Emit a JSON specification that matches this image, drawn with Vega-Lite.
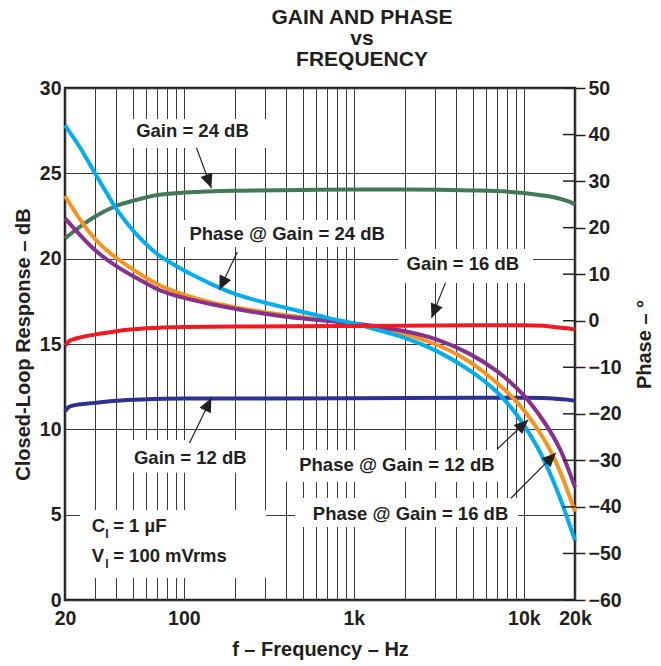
{
  "$schema": "https://vega.github.io/schema/vega-lite/v6.json",
  "width": 510,
  "height": 512,
  "autosize": {"type": "none"},
  "padding": {"left": 65, "top": 88, "right": 86, "bottom": 66},
  "background": "white",
  "config": {
    "font": "Liberation Sans",
    "view": {"stroke": "#231f20", "strokeWidth": 2.5},
    "axis": {
      "domain": false,
      "labelFont": "Liberation Sans", "labelFontWeight": "bold", "labelFontSize": 19.5, "labelColor": "#231f20",
      "titleFont": "Liberation Sans", "titleFontWeight": "bold", "titleFontSize": 20, "titleColor": "#231f20",
      "gridColor": "#3a3a3a", "gridWidth": 1, "gridOpacity": 1, "tickColor": "#231f20"
    }
  },
  "title": {
    "text": ["GAIN AND PHASE", "vs", "FREQUENCY"],
    "font": "Liberation Sans", "fontSize": 21, "fontWeight": "bold", "color": "#231f20",
    "lineHeight": 21, "anchor": "middle", "dx": 42, "offset": 8
  },
  "datasets": {
    "gain": [
      {"s": "Gain = 24 dB", "f": 20, "v": 21.19}, {"s": "Gain = 24 dB", "f": 24.5, "v": 21.87}, {"s": "Gain = 24 dB", "f": 30.4, "v": 22.5},
      {"s": "Gain = 24 dB", "f": 40.2, "v": 23.1}, {"s": "Gain = 24 dB", "f": 50.6, "v": 23.4}, {"s": "Gain = 24 dB", "f": 69.9, "v": 23.73},
      {"s": "Gain = 24 dB", "f": 100.9, "v": 23.87}, {"s": "Gain = 24 dB", "f": 150, "v": 23.95}, {"s": "Gain = 24 dB", "f": 211.7, "v": 23.98},
      {"s": "Gain = 24 dB", "f": 500, "v": 24.03}, {"s": "Gain = 24 dB", "f": 1000, "v": 24.05},
      {"s": "Gain = 24 dB", "f": 2000, "v": 24.05}, {"s": "Gain = 24 dB", "f": 5000, "v": 24.0}, {"s": "Gain = 24 dB", "f": 8000, "v": 23.93},
      {"s": "Gain = 24 dB", "f": 10000, "v": 23.85}, {"s": "Gain = 24 dB", "f": 12000, "v": 23.75}, {"s": "Gain = 24 dB", "f": 15000, "v": 23.6},
      {"s": "Gain = 24 dB", "f": 18000, "v": 23.38}, {"s": "Gain = 24 dB", "f": 20000, "v": 23.18},
      {"s": "Gain = 12 dB", "f": 20, "v": 11.05}, {"s": "Gain = 12 dB", "f": 21, "v": 11.3}, {"s": "Gain = 12 dB", "f": 22, "v": 11.38},
      {"s": "Gain = 12 dB", "f": 30, "v": 11.55}, {"s": "Gain = 12 dB", "f": 40, "v": 11.68}, {"s": "Gain = 12 dB", "f": 60, "v": 11.76},
      {"s": "Gain = 12 dB", "f": 100, "v": 11.8}, {"s": "Gain = 12 dB", "f": 1000, "v": 11.82}, {"s": "Gain = 12 dB", "f": 5000, "v": 11.85},
      {"s": "Gain = 12 dB", "f": 10000, "v": 11.85}, {"s": "Gain = 12 dB", "f": 13000, "v": 11.83}, {"s": "Gain = 12 dB", "f": 15000, "v": 11.8},
      {"s": "Gain = 12 dB", "f": 18000, "v": 11.74}, {"s": "Gain = 12 dB", "f": 20000, "v": 11.68},
      {"s": "Gain = 16 dB", "f": 20, "v": 14.9}, {"s": "Gain = 16 dB", "f": 21, "v": 15.15}, {"s": "Gain = 16 dB", "f": 22, "v": 15.25},
      {"s": "Gain = 16 dB", "f": 25, "v": 15.4}, {"s": "Gain = 16 dB", "f": 30, "v": 15.55}, {"s": "Gain = 16 dB", "f": 40, "v": 15.75},
      {"s": "Gain = 16 dB", "f": 60, "v": 15.92}, {"s": "Gain = 16 dB", "f": 100, "v": 16.0}, {"s": "Gain = 16 dB", "f": 200, "v": 16.02},
      {"s": "Gain = 16 dB", "f": 1000, "v": 16.05}, {"s": "Gain = 16 dB", "f": 5000, "v": 16.1}, {"s": "Gain = 16 dB", "f": 10000, "v": 16.1},
      {"s": "Gain = 16 dB", "f": 13000, "v": 16.07}, {"s": "Gain = 16 dB", "f": 15000, "v": 16.0}, {"s": "Gain = 16 dB", "f": 18000, "v": 15.92},
      {"s": "Gain = 16 dB", "f": 20000, "v": 15.85}
    ],
    "phase": [
      {"s": "Phase @ Gain = 12 dB", "f": 20, "p": 26.8}, {"s": "Phase @ Gain = 12 dB", "f": 24.5, "p": 21.6}, {"s": "Phase @ Gain = 12 dB", "f": 30.4, "p": 17.0},
      {"s": "Phase @ Gain = 12 dB", "f": 40.2, "p": 13.4}, {"s": "Phase @ Gain = 12 dB", "f": 50.6, "p": 10.9}, {"s": "Phase @ Gain = 12 dB", "f": 60.6, "p": 9.1},
      {"s": "Phase @ Gain = 12 dB", "f": 69.9, "p": 7.7}, {"s": "Phase @ Gain = 12 dB", "f": 100.9, "p": 5.5}, {"s": "Phase @ Gain = 12 dB", "f": 141.6, "p": 3.9},
      {"s": "Phase @ Gain = 12 dB", "f": 211.7, "p": 2.7}, {"s": "Phase @ Gain = 12 dB", "f": 388, "p": 1.1}, {"s": "Phase @ Gain = 12 dB", "f": 1000, "p": -0.4},
      {"s": "Phase @ Gain = 12 dB", "f": 1965, "p": -2.7}, {"s": "Phase @ Gain = 12 dB", "f": 2820, "p": -4.5}, {"s": "Phase @ Gain = 12 dB", "f": 4425, "p": -7.7},
      {"s": "Phase @ Gain = 12 dB", "f": 6340, "p": -12.0}, {"s": "Phase @ Gain = 12 dB", "f": 9100, "p": -17.1}, {"s": "Phase @ Gain = 12 dB", "f": 11930, "p": -22.8},
      {"s": "Phase @ Gain = 12 dB", "f": 15640, "p": -30.0}, {"s": "Phase @ Gain = 12 dB", "f": 20000, "p": -41.0},
      {"s": "Phase @ Gain = 16 dB", "f": 20, "p": 22.0}, {"s": "Phase @ Gain = 16 dB", "f": 24.5, "p": 18.4}, {"s": "Phase @ Gain = 16 dB", "f": 30.4, "p": 14.8},
      {"s": "Phase @ Gain = 16 dB", "f": 40.2, "p": 11.6}, {"s": "Phase @ Gain = 16 dB", "f": 50.6, "p": 9.5}, {"s": "Phase @ Gain = 16 dB", "f": 60.6, "p": 8.0},
      {"s": "Phase @ Gain = 16 dB", "f": 69.9, "p": 6.6}, {"s": "Phase @ Gain = 16 dB", "f": 100.9, "p": 4.8}, {"s": "Phase @ Gain = 16 dB", "f": 141.6, "p": 3.6},
      {"s": "Phase @ Gain = 16 dB", "f": 211.7, "p": 2.4}, {"s": "Phase @ Gain = 16 dB", "f": 388, "p": 0.7}, {"s": "Phase @ Gain = 16 dB", "f": 1000, "p": -0.4},
      {"s": "Phase @ Gain = 16 dB", "f": 1965, "p": -2.1}, {"s": "Phase @ Gain = 16 dB", "f": 3083, "p": -3.8}, {"s": "Phase @ Gain = 16 dB", "f": 4842, "p": -7.0},
      {"s": "Phase @ Gain = 16 dB", "f": 6950, "p": -10.6}, {"s": "Phase @ Gain = 16 dB", "f": 9956, "p": -15.6}, {"s": "Phase @ Gain = 16 dB", "f": 13050, "p": -21.4},
      {"s": "Phase @ Gain = 16 dB", "f": 16400, "p": -27.1}, {"s": "Phase @ Gain = 16 dB", "f": 20000, "p": -35.8},
      {"s": "Phase @ Gain = 24 dB", "f": 20, "p": 42.0}, {"s": "Phase @ Gain = 24 dB", "f": 24.5, "p": 37.4}, {"s": "Phase @ Gain = 24 dB", "f": 30.4, "p": 31.3},
      {"s": "Phase @ Gain = 24 dB", "f": 36.7, "p": 26.3}, {"s": "Phase @ Gain = 24 dB", "f": 40.2, "p": 23.8}, {"s": "Phase @ Gain = 24 dB", "f": 50.6, "p": 19.1},
      {"s": "Phase @ Gain = 24 dB", "f": 60.6, "p": 16.3}, {"s": "Phase @ Gain = 24 dB", "f": 69.9, "p": 14.1}, {"s": "Phase @ Gain = 24 dB", "f": 92, "p": 11.6},
      {"s": "Phase @ Gain = 24 dB", "f": 100.9, "p": 10.7}, {"s": "Phase @ Gain = 24 dB", "f": 141.6, "p": 8.0}, {"s": "Phase @ Gain = 24 dB", "f": 211.7, "p": 5.2},
      {"s": "Phase @ Gain = 24 dB", "f": 388, "p": 2.9}, {"s": "Phase @ Gain = 24 dB", "f": 730, "p": 0.4},
      {"s": "Phase @ Gain = 24 dB", "f": 1000, "p": -0.5}, {"s": "Phase @ Gain = 24 dB", "f": 1144, "p": -1.2}, {"s": "Phase @ Gain = 24 dB", "f": 1965, "p": -3.4},
      {"s": "Phase @ Gain = 24 dB", "f": 3083, "p": -6.3}, {"s": "Phase @ Gain = 24 dB", "f": 4842, "p": -10.6}, {"s": "Phase @ Gain = 24 dB", "f": 6950, "p": -15.0},
      {"s": "Phase @ Gain = 24 dB", "f": 9100, "p": -20.0}, {"s": "Phase @ Gain = 24 dB", "f": 11930, "p": -26.5}, {"s": "Phase @ Gain = 24 dB", "f": 15640, "p": -35.8},
      {"s": "Phase @ Gain = 24 dB", "f": 20000, "p": -47.2}
    ],
    "labels": [
      {"t": "Gain = 24 dB", "f": 112.4, "v": 27.48},
      {"t": "Phase @ Gain = 24 dB", "f": 405, "v": 21.46},
      {"t": "Gain = 16 dB", "f": 4379, "v": 19.66},
      {"t": "Gain = 12 dB", "f": 109.1, "v": 8.31},
      {"t": "Phase @ Gain = 12 dB", "f": 1793, "v": 7.91},
      {"t": "Phase @ Gain = 16 dB", "f": 2156, "v": 5.04}
    ],
    "boxes": [
      {"f": 44.9, "f2": 317.8, "v": 26.49, "v2": 28.18},
      {"f": 94.4, "f2": 1647, "v": 20.69, "v2": 22.27},
      {"f": 1834, "f2": 11336, "v": 18.58, "v2": 20.57},
      {"f": 44.9, "f2": 259.5, "v": 7.45, "v2": 9.38},
      {"f": 24.5, "f2": 305, "v": 1.29, "v2": 5.28},
      {"f": 378.6, "f2": 7770, "v": 6.92, "v2": 8.79},
      {"f": 451, "f2": 9262, "v": 4.28, "v2": 5.98}
    ],
    "arrows": [
      {"f": 118.7, "v": 26.49, "f2": 145.2, "v2": 24.14, "ang": 159.4},
      {"f": 206.3, "v": 20.39, "f2": 161.8, "v2": 18.17, "ang": 205.3},
      {"f": 3458, "v": 18.58, "f2": 2864, "v2": 16.53, "ang": 201.8},
      {"f": 108, "v": 9.2, "f2": 145.2, "v2": 11.84, "ang": 26.1},
      {"f": 6974, "v": 8.85, "f2": 10598, "v2": 10.55, "ang": 46.9},
      {"f": 8390, "v": 5.96, "f2": 15454, "v2": 8.62, "ang": 45}
    ],
    "notes": [
      {"t": "C", "f": 28.7, "v": 4.0},
      {"t": "= 1 µF", "f": 38.4, "v": 4.0},
      {"t": "V", "f": 28.7, "v": 2.25},
      {"t": "= 100 mVrms", "f": 38.4, "v": 2.25}
    ],
    "subs": [
      {"t": "I", "f": 34.5, "v": 3.62},
      {"t": "I", "f": 34.5, "v": 1.87}
    ],
    "pticks": [
      {"p": -60}, {"p": -50}, {"p": -40}, {"p": -30}, {"p": -20}, {"p": -10}, {"p": 0}, {"p": 10}, {"p": 20}, {"p": 30}, {"p": 40}, {"p": 50}
    ]
  },
  "layer": [
    {
      "layer": [
        {
          "data": {"name": "boxes"},
          "mark": {"type": "rect", "fill": "white"},
          "encoding": {
            "x": {"field": "f", "type": "quantitative", "scale": {"type": "log", "domain": [20, 20000], "nice": false},
              "axis": {
                "values": [20, 30, 40, 50, 60, 70, 80, 90, 100, 200, 300, 400, 500, 600, 700, 800, 900, 1000, 2000, 3000, 4000, 5000, 6000, 7000, 8000, 9000, 10000, 20000],
                "grid": true, "ticks": false, "labelPadding": 9, "labelOverlap": false, "labelFlush": false, "labelBound": false,
                "labelExpr": "datum.value == 20 ? '20' : datum.value == 100 ? '100' : datum.value == 1000 ? '1k' : datum.value == 10000 ? '10k' : datum.value == 20000 ? '20k' : ''",
                "title": "f – Frequency – Hz", "titlePadding": 12
              }},
            "x2": {"field": "f2"},
            "y": {"field": "v", "type": "quantitative", "scale": {"domain": [0, 30], "nice": false, "zero": false},
              "axis": {"values": [0, 5, 10, 15, 20, 25, 30], "grid": true, "ticks": false, "labelPadding": 4,
                "title": "Closed-Loop Response – dB", "titlePadding": 6}},
            "y2": {"field": "v2"}
          }
        },
        {
          "data": {"name": "gain"},
          "transform": [{"filter": "datum.s != 'Gain = 16 dB'"}],
          "mark": {"type": "line", "strokeWidth": 4, "interpolate": "monotone"},
          "encoding": {
            "x": {"field": "f", "type": "quantitative"},
            "y": {"field": "v", "type": "quantitative"},
            "color": {"field": "s", "type": "nominal", "legend": null,
              "scale": {"domain": ["Gain = 24 dB", "Gain = 12 dB"], "range": ["#43785a", "#2e3192"]}}
          }
        },
        {
          "data": {"name": "labels"},
          "mark": {"type": "text", "font": "Liberation Sans", "fontWeight": "bold", "fontSize": 18.5, "color": "#231f20", "align": "center", "baseline": "middle"},
          "encoding": {
            "x": {"field": "f", "type": "quantitative"},
            "y": {"field": "v", "type": "quantitative"},
            "text": {"field": "t"}
          }
        },
        {
          "data": {"name": "notes"},
          "mark": {"type": "text", "font": "Liberation Sans", "fontWeight": "bold", "fontSize": 18.5, "color": "#231f20", "align": "left", "baseline": "alphabetic"},
          "encoding": {
            "x": {"field": "f", "type": "quantitative"},
            "y": {"field": "v", "type": "quantitative"},
            "text": {"field": "t"}
          }
        },
        {
          "data": {"name": "subs"},
          "mark": {"type": "text", "font": "Liberation Sans", "fontWeight": "bold", "fontSize": 12, "color": "#231f20", "align": "left", "baseline": "alphabetic"},
          "encoding": {
            "x": {"field": "f", "type": "quantitative"},
            "y": {"field": "v", "type": "quantitative"},
            "text": {"field": "t"}
          }
        }
      ]
    },
    {
      "layer": [
        {
          "data": {"name": "phase"},
          "mark": {"type": "line", "strokeWidth": 4, "interpolate": "basis"},
          "encoding": {
            "x": {"field": "f", "type": "quantitative"},
            "y": {"field": "p", "type": "quantitative", "scale": {"domain": [-60, 50], "nice": false, "zero": false},
              "axis": {"orient": "right", "values": [-60, -50, -40, -30, -20, -10, 0, 10, 20, 30, 40, 50], "grid": false,
                "ticks": true, "tickSize": 10, "tickWidth": 1.5, "labelPadding": 3,
                "title": "Phase – °", "titleAngle": 270, "titleBaseline": "top", "titlePadding": 13}},
            "color": {"field": "s", "type": "nominal", "legend": null,
              "scale": {"domain": ["Phase @ Gain = 12 dB", "Phase @ Gain = 16 dB", "Phase @ Gain = 24 dB"], "range": ["#f7941d", "#86308f", "#00aeef"]}}
          }
        },
        {
          "data": {"name": "pticks"},
          "mark": {"type": "rule", "strokeWidth": 1.5, "color": "#231f20"},
          "encoding": {
            "x": {"datum": 17000, "type": "quantitative"},
            "x2": {"datum": 20000},
            "y": {"field": "p", "type": "quantitative"}
          }
        }
      ]
    },
    {
      "layer": [
        {
          "data": {"name": "gain"},
          "transform": [{"filter": "datum.s == 'Gain = 16 dB'"}],
          "mark": {"type": "line", "strokeWidth": 4, "interpolate": "monotone", "color": "#ed1c24"},
          "encoding": {
            "x": {"field": "f", "type": "quantitative"},
            "y": {"field": "v", "type": "quantitative", "scale": {"domain": [0, 30], "nice": false, "zero": false}, "axis": null}
          }
        },
        {
          "data": {"name": "arrows"},
          "mark": {"type": "rule", "strokeWidth": 1.2, "color": "#231f20"},
          "encoding": {
            "x": {"field": "f", "type": "quantitative"},
            "x2": {"field": "f2"},
            "y": {"field": "v", "type": "quantitative"},
            "y2": {"field": "v2"}
          }
        },
        {
          "data": {"name": "arrows"},
          "mark": {"type": "point", "shape": "M0,0 L0.45,1 L-0.45,1 Z", "filled": true, "color": "#231f20", "size": 784, "opacity": 1},
          "encoding": {
            "x": {"field": "f2", "type": "quantitative"},
            "y": {"field": "v2", "type": "quantitative"},
            "angle": {"field": "ang", "type": "quantitative", "scale": null}
          }
        }
      ]
    }
  ],
  "resolve": {"scale": {"y": "independent", "color": "independent"}}
}
